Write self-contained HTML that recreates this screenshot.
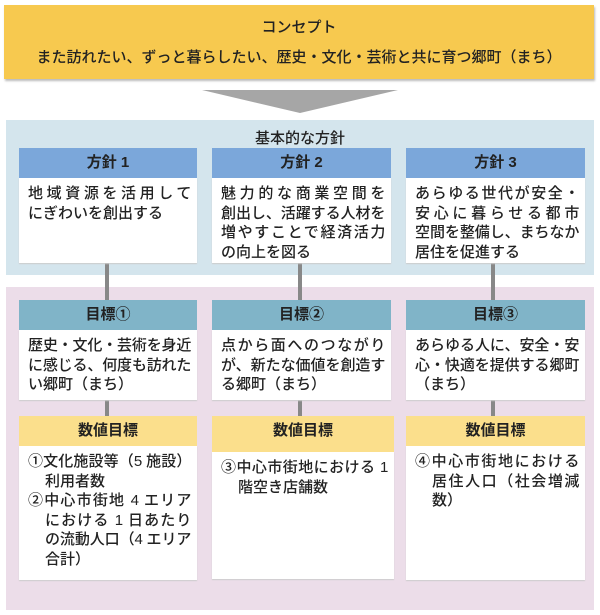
<!DOCTYPE html>
<html><head><meta charset="utf-8"><style>
*{margin:0;padding:0;box-sizing:border-box}
body{width:600px;height:615px;background:#fff;position:relative;font-family:"Liberation Sans","Noto Sans CJK JP",sans-serif;color:#222;overflow:hidden}
.a{position:absolute}
.concept{left:4px;top:5px;width:590px;height:74px;background:#f7c94f;box-shadow:1px 2px 2px #bbb}
.t{text-align:center;font-size:15px;font-weight:500}
.blue{left:6px;top:120px;width:588px;height:155px;background:#d4e5ed}
.pink{left:6px;top:287px;width:588px;height:323px;background:#ecdde9}
.h{height:30px;line-height:30px;text-align:center;font-size:15px;font-weight:bold}
.hb{background:#7ba7da}
.hg{background:#80b4c8}
.hy{background:#fbdf8c}
.body{background:#fff;font-size:15px;line-height:19.5px;padding:6px 6px 0 9px;box-shadow:0 1px 1px #ccc;font-weight:500;overflow:hidden}
.body .j{text-align:justify;text-align-last:justify;white-space:nowrap;letter-spacing:-0.4px}
.body .l{white-space:nowrap}
.line{width:4px;background:#888}
.ind{padding-left:17px}
.ind0{margin-left:-17px}
</style></head><body>
<div class="a concept"></div>
<div class="a t" style="left:4px;top:16px;width:590px">コンセプト</div>
<div class="a t" style="left:4px;top:46px;width:590px">また訪れたい、ずっと暮らしたい、歴史・文化・芸術と共に育つ郷町（まち）</div>
<svg class="a" style="left:0;top:0" width="600" height="130"><polygon points="202,90 398,90 300,113" fill="#a6a6a6"/></svg>
<div class="a blue"></div>
<div class="a pink"></div>
<div class="a t" style="left:6px;top:127px;width:588px">基本的な方針</div>

<div class="a line" style="left:105px;top:262px;height:160px"></div>
<div class="a line" style="left:298px;top:262px;height:160px"></div>
<div class="a line" style="left:491px;top:262px;height:160px"></div>

<div class="a" style="left:19px;top:148px;width:178px"><div class="h hb">方針 1</div><div class="body" style="height:85px"><div class="j">地域資源を活用して</div><div class="l">にぎわいを創出する</div></div></div>
<div class="a" style="left:212px;top:148px;width:179px"><div class="h hb">方針 2</div><div class="body" style="height:85px"><div class="j">魅力的な商業空間を</div><div class="j">創出し、活躍する人材を</div><div class="j">増やすことで経済活力</div><div class="l">の向上を図る</div></div></div>
<div class="a" style="left:406px;top:148px;width:179px"><div class="h hb">方針 3</div><div class="body" style="height:85px"><div class="j">あらゆる世代が安全・</div><div class="j">安心に暮らせる都市</div><div class="j">空間を整備し、まちなか</div><div class="l">居住を促進する</div></div></div>

<div class="a" style="left:19px;top:300px;width:178px"><div class="h hg">目標①</div><div class="body" style="height:70px"><div class="j">歴史・文化・芸術を身近</div><div class="j">に感じる、何度も訪れた</div><div class="l">い郷町（まち）</div></div></div>
<div class="a" style="left:212px;top:300px;width:179px"><div class="h hg">目標②</div><div class="body" style="height:70px"><div class="j">点から面へのつながり</div><div class="j">が、新たな価値を創造す</div><div class="l">る郷町（まち）</div></div></div>
<div class="a" style="left:406px;top:300px;width:179px"><div class="h hg">目標③</div><div class="body" style="height:70px"><div class="j">あらゆる人に、安全・安</div><div class="j">心・快適を提供する郷町</div><div class="l">（まち）</div></div></div>

<div class="a" style="left:19px;top:416px;width:178px"><div class="h hy">数値目標</div><div class="body" style="height:134px"><div class="ind"><div class="j ind0">①文化施設等（5 施設）</div><div class="l">利用者数</div><div class="j ind0">②中心市街地 4 エリア</div><div class="j">における 1 日あたり</div><div class="j">の流動人口（4 エリア</div><div class="l">合計）</div></div></div></div>
<div class="a" style="left:212px;top:416px;width:182px"><div class="h hy" style="height:36px;line-height:30px">数値目標</div><div class="body" style="height:127px"><div class="ind"><div class="j ind0">③中心市街地における 1</div><div class="l">階空き店舗数</div></div></div></div>
<div class="a" style="left:406px;top:416px;width:179px"><div class="h hy">数値目標</div><div class="body" style="height:134px"><div class="ind"><div class="j ind0">④中心市街地における</div><div class="j">居住人口（社会増減</div><div class="l">数）</div></div></div></div>
</body></html>
